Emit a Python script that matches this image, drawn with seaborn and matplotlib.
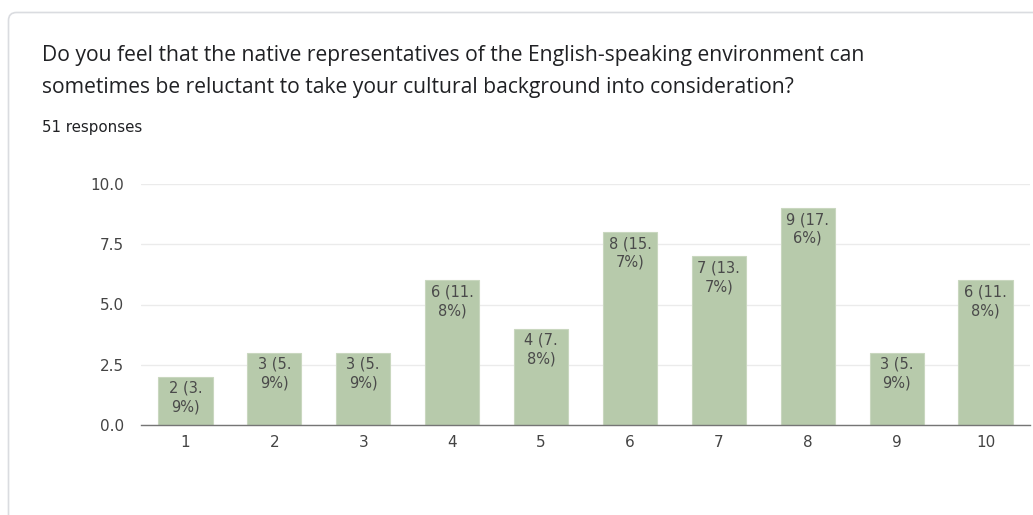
import matplotlib
matplotlib.use("Agg")
import matplotlib.pyplot as plt
from matplotlib.patches import FancyBboxPatch
import seaborn as sns
import pandas as pd

categories = ["1", "2", "3", "4", "5", "6", "7", "8", "9", "10"]
counts = [2, 3, 3, 6, 4, 8, 7, 9, 3, 6]
labels = ["2 (3.\n9%)", "3 (5.\n9%)", "3 (5.\n9%)", "6 (11.\n8%)", "4 (7.\n8%)",
          "8 (15.\n7%)", "7 (13.\n7%)", "9 (17.\n6%)", "3 (5.\n9%)", "6 (11.\n8%)"]
yticks = [0.0, 2.5, 5.0, 7.5, 10.0]
title_lines = ["Do you feel that the native representatives of the English-speaking environment can",
               "sometimes be reluctant to take your cultural background into consideration?"]
subtitle = "51 responses"

sns.set_style("white")
plt.rcParams['font.family'] = ['DejaVu Sans']

W, H = 1033, 515
fig = plt.figure(figsize=(W / 100, H / 100), dpi=100)

# card border
card = FancyBboxPatch((8.5, -20), 1100, H - 12.5 + 20, boxstyle="round,pad=0,rounding_size=8",
                      transform=None, facecolor="none", edgecolor="#dadce0", linewidth=1.2, zorder=0)
fig.patches.append(card)

for k, y in enumerate([55, 87]):
    fig.text(42 / W, 1 - y / H, title_lines[k], fontsize=15.2, color="#202124", va="center",
             ha="left", family="Open Sans")
fig.text(42 / W, 1 - 127 / H, subtitle, fontsize=10.8, color="#202124", va="center", ha="left")

ax = fig.add_axes([141 / W, 1 - 425 / H, (1030 - 141) / W, (425 - 184) / H])
ax.patch.set_alpha(0)
df = pd.DataFrame({"cat": categories, "n": counts})
sns.barplot(data=df, x="cat", y="n", order=categories, color="#b7caab", saturation=1,
            width=0.61, ax=ax, zorder=2, edgecolor="#c9d7bf", linewidth=0.8)
ax.set_xlim(-0.5, 9.5)
ax.set_ylim(0, 10)
ax.set_yticks(yticks)
ax.set_yticklabels([f"{t:.1f}" for t in yticks])
ax.set_xlabel("")
ax.set_ylabel("")
for s in ["top", "right", "left"]:
    ax.spines[s].set_visible(False)
ax.spines["bottom"].set_color("#757575")
ax.spines["bottom"].set_linewidth(1.0)
ax.grid(axis="y", color="#ebebeb", linewidth=1, zorder=0)
ax.set_axisbelow(True)
ax.tick_params(axis="both", length=0, labelsize=11, labelcolor="#444444")
ax.tick_params(axis="y", pad=12)
ax.tick_params(axis="x", pad=7)

for i, (v, lab) in enumerate(zip(counts, labels)):
    ax.annotate(lab, xy=(i, v), xytext=(0, -3), textcoords="offset points",
                ha="center", va="top", fontsize=10.5, color="#4a4a4a", linespacing=1.3, zorder=3)

fig.savefig("out.png", dpi=100)
